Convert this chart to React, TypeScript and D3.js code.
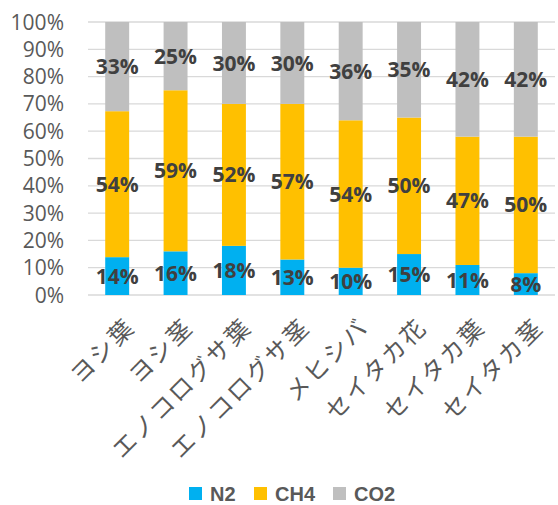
import React from "react";
import * as d3 from "d3";

const categories = ["ヨシ葉", "ヨシ茎", "エノコログサ葉", "エノコログサ茎", "メヒシバ", "セイタカ花", "セイタカ葉", "セイタカ茎"];
const seriesNames = ["N2", "CH4", "CO2"];
const n2 = [14, 16, 18, 13, 10, 15, 11, 8];
const ch4 = [54, 59, 52, 57, 54, 50, 47, 50];
const co2 = [33, 25, 30, 30, 36, 35, 42, 42];
const yTicks = [0, 0.1, 0.2, 0.3, 0.4, 0.5, 0.6, 0.7, 0.8, 0.9, 1];

const colors = ["#00B0F0", "#FFC000", "#BFBFBF"];
const latin = "'Open Sans', 'Noto Sans CJK JP', sans-serif";
const jp = "'Noto Sans CJK JP', sans-serif";

const W = 558;
const H = 505;
const margin = { top: 22, right: 3, bottom: 210, left: 88 };

export default function App() {
  const innerW = W - margin.left - margin.right;
  const innerH = H - margin.top - margin.bottom;

  const rows = categories.map((c, i) => ({ cat: c, N2: n2[i], CH4: ch4[i], CO2: co2[i] }));
  const stacked = d3
    .stack<any>()
    .keys(seriesNames)
    .offset(d3.stackOffsetExpand)(rows);

  const x = d3.scaleBand().domain(categories).range([0, innerW]).paddingInner(0.59).paddingOuter(0.295);
  const y = d3.scaleLinear().domain([0, 1]).range([innerH, 0]);
  const fmt = d3.format(".0%");

  const legendItems = [
    { name: seriesNames[0], x: 189 },
    { name: seriesNames[1], x: 254 },
    { name: seriesNames[2], x: 333 },
  ];

  return (
    <svg width={W} height={H} style={{ position: "absolute", left: 0, top: 0, background: "#fff" }}>
      <g transform={`translate(${margin.left},${margin.top})`}>
        {yTicks.map((t) => (
          <g key={t}>
            <line x1={0} x2={innerW} y1={y(t)} y2={y(t)} stroke="#D9D9D9" strokeWidth={1.3} />
            <text x={-24} y={y(t)} dy="0.36em" textAnchor="end" fontFamily={latin} fontSize={21} fill="#595959">
              {fmt(t)}
            </text>
          </g>
        ))}
        {stacked.map((s, si) =>
          s.map((d, i) => (
            <rect
              key={`${si}-${i}`}
              x={x(categories[i])!}
              y={y(d[1])}
              width={x.bandwidth()}
              height={y(d[0]) - y(d[1])}
              fill={colors[si]}
            />
          ))
        )}
        {stacked.map((s, si) =>
          s.map((d, i) => {
            const raw = [n2, ch4, co2][si][i];
            return (
              <text
                key={`l${si}-${i}`}
                x={x(categories[i])! + x.bandwidth() / 2}
                y={(y(d[0]) + y(d[1])) / 2}
                dy="0.36em"
                textAnchor="middle"
                fontFamily={latin}
                fontWeight="bold"
                fontSize={21}
                fill="#404040"
              >
                {raw}%
              </text>
            );
          })
        )}
        {categories.map((c) => {
          const cx = x(c)! + x.bandwidth() / 2 + 6;
          const cy = innerH + 20;
          return (
            <text
              key={c}
              transform={`translate(${cx},${cy}) rotate(-45)`}
              textAnchor="end"
              dy="0.8em"
              fontFamily={jp}
              fontSize={24}
              letterSpacing={2.5}
              fill="#595959"
            >
              {c}
            </text>
          );
        })}
      </g>
      {legendItems.map((l, i) => (
        <g key={l.name}>
          <rect x={l.x} y={487} width={13} height={13} fill={colors[i]} />
          <text x={l.x + 21} y={500.5} fontFamily="'Liberation Sans', sans-serif" fontWeight="bold" fontSize={20} fill="#595959">
            {l.name}
          </text>
        </g>
      ))}
    </svg>
  );
}
